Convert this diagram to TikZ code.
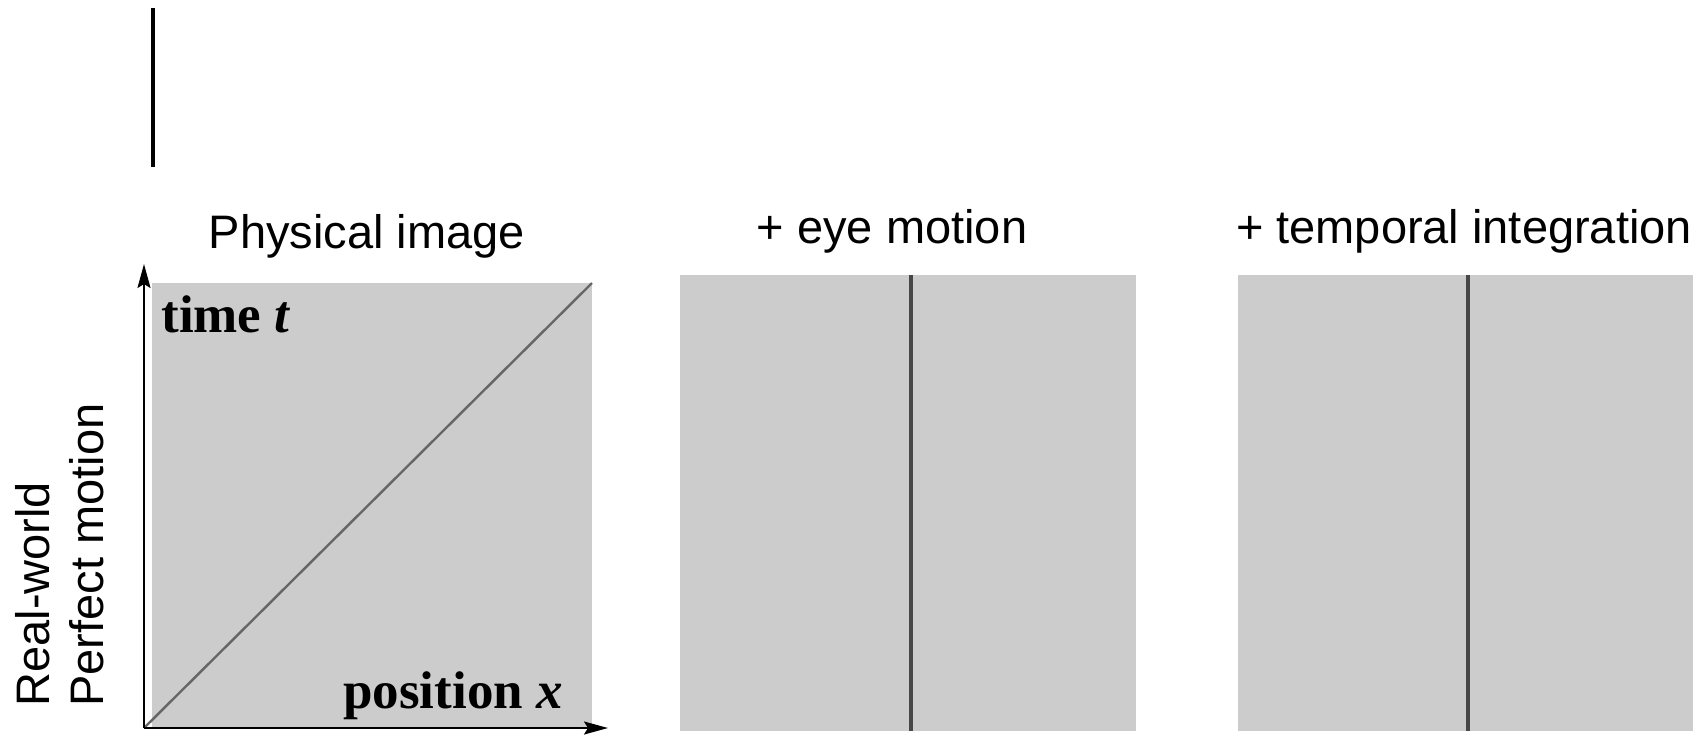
\documentclass[tikz,border=0pt]{standalone}
\usepackage{fontspec}
\setmainfont{Liberation Serif}
\setsansfont{Liberation Sans}
\usetikzlibrary{arrows.meta}

\begin{document}
\begin{tikzpicture}[x=0.5pt,y=-0.5pt]
	\tikzstyle{panel}=[fill=black!20,draw=none]
	\tikzstyle{titre}=[font=\sffamily\fontsize{23.5}{27}\selectfont,anchor=base,inner sep=0pt]
	\tikzstyle{axe}=[font=\bfseries\fontsize{26.5}{30}\selectfont,anchor=base west,inner sep=0pt]
	\tikzstyle{trait}=[draw=black!72,line width=1.6pt]
	\tikzstyle{fleche}=[line width=1pt,-{Stealth[length=12pt,width=6.5pt,inset=2pt]}]
	\useasboundingbox (0,0) rectangle (1705,735);
	% stray bar
	\draw[line width=2pt] (153,8) -- (153,167);
	% panels
	\fill[panel] (152,283) rectangle (592,728);
	\fill[panel] (680,275) rectangle (1136,731);
	\fill[panel] (1238,275) rectangle (1693,731);
	\coordinate (O) at (144,728);
	\coordinate (T) at (144,264);
	\coordinate (X) at (608,728);
	\coordinate (D) at (592,283);
	\draw[draw=black!60,line width=1.2pt] (O) -- (D);
	\draw[trait] (911,275) -- (911,731);
	\draw[trait] (1468,275) -- (1468,731);
	\draw[fleche] (O) -- (T);
	\draw[fleche] (O) -- (X);
	% labels
	\node[axe] (temps) at (161,332) {time \textit{t}};
	\node[axe] (pos) at (343,708) {position \textit{x}};
	\node[titre] (A) at (367,248) {Physical image};
	\node[titre] (B) at (892,243) {+ eye motion};
	\node[titre] (C) at (1464,243) {+ temporal integration};
	\node[font=\sffamily\fontsize{23.5}{27}\selectfont,rotate=90,align=left,anchor=west,inner sep=0pt] (L) at (60,707) {Real-world\\Perfect motion};
\end{tikzpicture}
\end{document}
